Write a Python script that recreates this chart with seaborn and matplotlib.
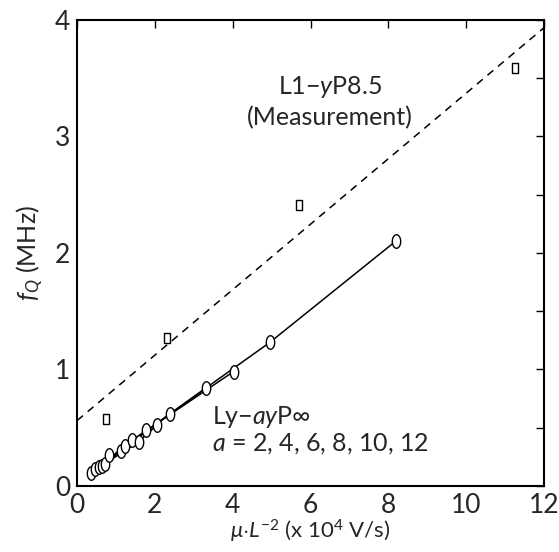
import numpy as np
import pandas as pd
import matplotlib
matplotlib.use("Agg")
import matplotlib.pyplot as plt
from matplotlib.path import Path
import seaborn as sns

# Simulated Ly-ayP-infinity series (a = 2 ... 12)
a_values = [2, 4, 6, 8, 10, 12]
sim_x = {
    2: [0.36, 1.12, 2.39, 4.95, 8.19],
    4: [0.46, 1.24, 3.32],
    6: [0.55, 1.41, 4.02],
    8: [0.63, 1.58, 2.05],
    10: [0.72, 1.78],
    12: [0.83],
}
sim_y = {
    2: [0.11, 0.30, 0.62, 1.23, 2.10],
    4: [0.14, 0.34, 0.84],
    6: [0.16, 0.39, 0.98],
    8: [0.17, 0.38, 0.52],
    10: [0.19, 0.48],
    12: [0.26],
}

# Measured L1-yP8.5 points
meas_x = [0.75, 2.31, 5.71, 11.26]
meas_y = [0.57, 1.27, 2.41, 3.59]

# Linear fit through the measurements
fit_intercept = 0.56
fit_slope = 0.281
fit_range = [0, 12]

x_ticks = [0, 2, 4, 6, 8, 10, 12]
y_ticks = [0, 1, 2, 3, 4]

sns.set_theme(style="white")
plt.rcParams["font.family"] = ["Lato", "DejaVu Sans"]
plt.rcParams["mathtext.fontset"] = "custom"
plt.rcParams["mathtext.rm"] = "Lato"
plt.rcParams["mathtext.it"] = "Lato:italic"
plt.rcParams["mathtext.bf"] = "Lato:bold"

# tall ellipse / tall rectangle markers
t = np.linspace(0, 2 * np.pi, 60)
ellipse = Path(np.column_stack([0.62 * np.cos(t), np.sin(t)]), closed=True)
tall_rect = Path([(-0.62, -1), (0.62, -1), (0.62, 1), (-0.62, 1), (-0.62, -1)], closed=True)

sim_df = pd.DataFrame(
    [(a, x, y) for a in a_values for x, y in zip(sim_x[a], sim_y[a])],
    columns=["a", "x", "y"],
)
meas_df = pd.DataFrame({"x": meas_x, "y": meas_y})
fit_df = pd.DataFrame({"x": fit_range})
fit_df["y"] = fit_intercept + fit_slope * fit_df["x"]

fig = plt.figure(figsize=(5.59, 5.52), dpi=100)
ax = fig.add_axes([0.138, 0.12, 0.835, 0.844])

sns.lineplot(data=fit_df, x="x", y="y", ax=ax, color="black", lw=1.1,
             linestyle=(0, (5, 4)), legend=False)

for a in a_values:
    d = sim_df[sim_df["a"] == a]
    sns.lineplot(data=d, x="x", y="y", ax=ax, color="black", lw=1.1,
                 legend=False, sort=True, estimator=None)

sns.scatterplot(data=sim_df, x="x", y="y", ax=ax, marker=ellipse, s=95,
                facecolor="white", edgecolor="black", linewidth=1.0,
                legend=False, zorder=4)

sns.scatterplot(data=meas_df, x="x", y="y", ax=ax, marker=tall_rect, s=55,
                facecolor="white", edgecolor="black", linewidth=1.0,
                legend=False, zorder=5)

ax.set_xlim(0, 12)
ax.set_ylim(0, 4)
ax.set_xticks(x_ticks)
ax.set_xticklabels([str(v) for v in x_ticks])
ax.set_yticks(y_ticks)
ax.set_yticklabels([str(v) for v in y_ticks])
ax.set_yticks(np.arange(0, 4.01, 0.5), minor=True)
ax.tick_params(which="both", direction="in", top=True, right=True,
               labelsize=19, length=6, width=1.0, color="black")
ax.tick_params(axis="x", pad=5)
ax.tick_params(axis="y", pad=5)
for s in ax.spines.values():
    s.set_color("black")
    s.set_linewidth(1.5)

ax.set_xlabel(r"$\mu{\cdot}L^{-2}$ (x 10$^{4}$ V/s)", fontsize=16, labelpad=0)
ax.set_ylabel(r"$f_{Q}$ (MHz)", fontsize=18, labelpad=6)

ax.text(6.5, 3.42, r"L1$-y$P8.5", fontsize=18, ha="center", va="center")
ax.text(6.5, 3.16, "(Measurement)", fontsize=18, ha="center", va="center")
ax.text(3.47, 0.59, r"Ly$-ay$P$\infty$", fontsize=18, ha="left", va="center")
ax.text(3.47, 0.36, r"$a$ = 2, 4, 6, 8, 10, 12", fontsize=18, ha="left", va="center")

fig.savefig("out.png", dpi=100)
